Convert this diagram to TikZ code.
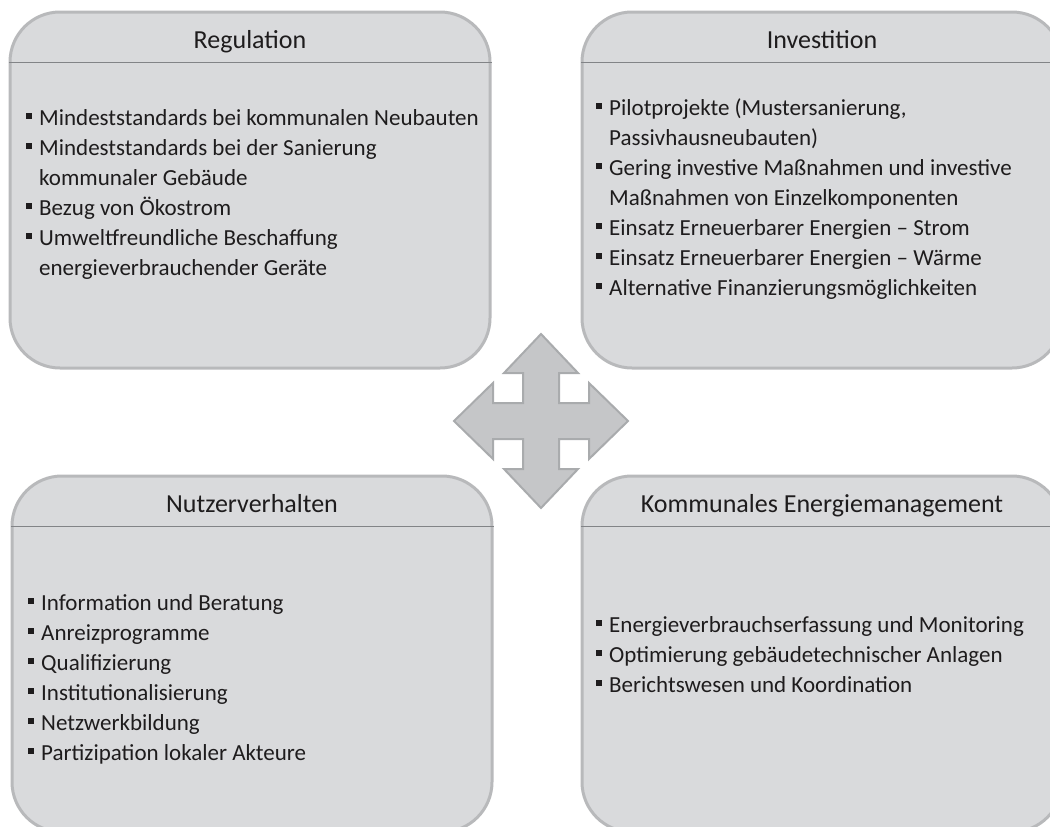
\documentclass[tikz,border=0pt]{standalone}
\usepackage{fontspec}
\setmainfont{Carlito}
\definecolor{panelgray}{HTML}{D9DADC}
\definecolor{panelrim}{HTML}{B8B9BB}
\definecolor{headrule}{HTML}{828487}
\definecolor{hubgray}{HTML}{C5C6C8}
\definecolor{hubrim}{HTML}{A9ABAD}
\definecolor{txtgray}{HTML}{1E1C1D}
\newcommand\sqbul{\rule[6pt]{6pt}{6pt}}
\newcommand\itm[1]{\par\hangindent=13pt\hangafter=1\noindent\makebox[13pt][l]{\sqbul}#1}
\newcommand\itemlist[1]{\begin{minipage}[t]{600pt}\fontsize{23}{30}\selectfont #1\end{minipage}}

\begin{document}
\begin{tikzpicture}[x=1pt,y=-1pt,
    panel/.style={draw=panelrim, line width=3pt, fill=panelgray, rounded corners=50pt,
      minimum width=480pt, minimum height=356pt, inner sep=0pt},
    title/.style={anchor=base, inner sep=0pt, text=txtgray, font=\fontsize{26}{30}\selectfont},
    body/.style={anchor=base west, inner sep=0pt, text=txtgray},
    headline/.style={draw=headrule, line width=1pt}]
  \clip (0,0) rectangle (1050,827);

  % Regulation
  \node[panel] (reg) at (250,190) {};
  \node[title] (regtitle) at ([yshift=-38pt]reg.north) {Regulation};
  \draw[headline] ([yshift=-52pt]reg.north west) -- ([yshift=-52pt]reg.north east);
  \node[body] (regtxt) at (26,125) {\itemlist{%
    \itm{Mindeststandards bei kommunalen Neubauten}
    \itm{Mindeststandards bei der Sanierung\newline kommunaler Gebäude}
    \itm{Bezug von Ökostrom}
    \itm{Umweltfreundliche Beschaffung\newline energieverbrauchender Geräte}}};

  % Investition
  \node[panel] (inv) at (822,190) {};
  \node[title] (invtitle) at ([yshift=-38pt]inv.north) {Investition};
  \draw[headline] ([yshift=-52pt]inv.north west) -- ([yshift=-52pt]inv.north east);
  \node[body] (invtxt) at (596,115) {\itemlist{%
    \itm{Pilotprojekte (Mustersanierung,\newline Passivhausneubauten)}
    \itm{Gering investive Maßnahmen und investive\newline Maßnahmen von Einzelkomponenten}
    \itm{Einsatz Erneuerbarer Energien – Strom}
    \itm{Einsatz Erneuerbarer Energien – Wärme}
    \itm{Alternative Finanzierungsmöglichkeiten}}};

  % Nutzerverhalten
  \node[panel] (nutz) at (252,654) {};
  \node[title] (nutztitle) at ([yshift=-38pt]nutz.north) {Nutzerverhalten};
  \draw[headline] ([yshift=-52pt]nutz.north west) -- ([yshift=-52pt]nutz.north east);
  \node[body] (nutztxt) at (28,610) {\itemlist{%
    \itm{Information und Beratung}
    \itm{Anreizprogramme}
    \itm{Qualifizierung}
    \itm{Institutionalisierung}
    \itm{Netzwerkbildung}
    \itm{Partizipation lokaler Akteure}}};

  % Kommunales Energiemanagement
  \node[panel] (kem) at (822,654) {};
  \node[title] (kemtitle) at ([yshift=-38pt]kem.north) {Kommunales Energiemanagement};
  \draw[headline] ([yshift=-52pt]kem.north west) -- ([yshift=-52pt]kem.north east);
  \node[body] (kemtxt) at (596,632) {\itemlist{%
    \itm{Energieverbrauchserfassung und Monitoring}
    \itm{Optimierung gebäudetechnischer Anlagen}
    \itm{Berichtswesen und Koordination}}};

  % Vierfachpfeil
  \coordinate (hub) at (541,421);
  \draw[shift={(hub)}, fill=hubgray, draw=hubrim, line width=2pt, line join=miter]
    (0,-87) -- (37,-48) -- (18,-48) -- (18,-18) -- (48,-18) -- (48,-38) -- (87,0)
    -- (48,38) -- (48,18) -- (18,18) -- (18,48) -- (37,48) -- (0,87)
    -- (-37,48) -- (-18,48) -- (-18,18) -- (-48,18) -- (-48,38) -- (-87,0)
    -- (-48,-38) -- (-48,-18) -- (-18,-18) -- (-18,-48) -- (-37,-48) -- cycle;
\end{tikzpicture}
\end{document}
